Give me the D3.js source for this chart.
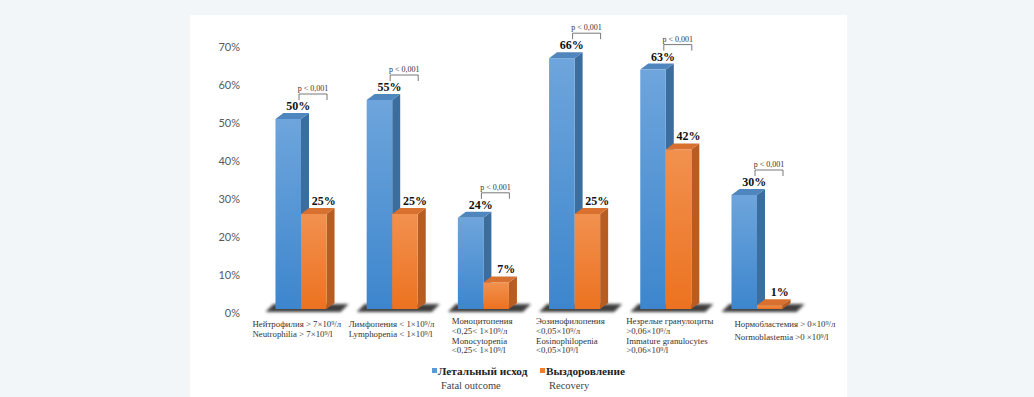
<!DOCTYPE html>
<html>
<head>
<meta charset="utf-8">
<script src="https://cdn.jsdelivr.net/npm/d3@7"></script>
<style>
  html, body { margin: 0; padding: 0; background: #f3f6f9; }
  #chart { position: absolute; left: 0; top: 0; }
  .serif { font-family: "Liberation Serif", "Times New Roman", Times, serif; }
</style>
</head>
<body>
<div id="chart"></div>
<script>
// data
const categories = ["neutro", "lympho", "mono", "eos", "immature", "normo"];
const categoryLines = [
  ["Нейтрофилия > 7×10⁹/л", "Neutrophilia > 7×10⁹/l"],
  ["Лимфопения < 1×10⁹/л", "Lymphopenia < 1×10⁹/l"],
  ["Моноцитопения", "<0,25< 1×10⁹/л", "Monocytopenia", "<0,25< 1×10⁹/l"],
  ["Эозинофилопения", "<0,05×10⁹/л", "Eosinophilopenia", "<0,05×10⁹/l"],
  ["Незрелые гранулоциты", ">0,06×10⁹/л", "Immature granulocytes", ">0,06×10⁹/l"],
  ["Нормобластемия > 0×10⁹/л", "Normoblastemia >0 ×10⁹/l"]
];
const fatal = [50, 55, 24, 66, 63, 30];
const recovery = [25, 25, 7, 25, 42, 1];
const pLabels = ["p < 0,001", "p < 0,001", "p < 0,001", "p < 0,001", "p < 0,001", "p < 0,001"];
const yTicks = [0, 10, 20, 30, 40, 50, 60, 70];
const seriesNames = ["Летальный исход", "Выздоровление"];
const seriesNamesEn = ["Fatal outcome", "Recovery"];

// layout
const W = 1034, H = 397;
const labelDx = [-23, -18, -6, -13, -14, 3]; // left edge of category text vs band start

const svg = d3.select("#chart").append("svg")
  .attr("width", W)
  .attr("height", H);

const defs = svg.append("defs");

function vGrad(id, top, bottom) {
  const g = defs.append("linearGradient")
    .attr("id", id)
    .attr("x1", 0).attr("y1", 0).attr("x2", 0).attr("y2", 1);
  g.append("stop").attr("offset", "0%").attr("stop-color", top);
  g.append("stop").attr("offset", "100%").attr("stop-color", bottom);
}
vGrad("blueFront", "#6ea5dc", "#3d86cd");
vGrad("orangeFront", "#f1914f", "#ec7220");

defs.append("filter").attr("id", "blur")
  .attr("x", "-20%").attr("y", "-100%").attr("width", "140%").attr("height", "300%")
  .append("feGaussianBlur").attr("stdDeviation", 1.6);

// white panel
svg.append("rect")
  .attr("x", 190).attr("y", 15)
  .attr("width", 657).attr("height", H - 15)
  .attr("fill", "#fff");

const x = d3.scaleBand()
  .domain(categories)
  .range([255.4, 802.6])
  .paddingInner(0.44)
  .paddingOuter(0.22);

const xs = d3.scaleBand()
  .domain(["fatal", "recovery"])
  .range([0, x.bandwidth()]);

const y = d3.scaleLinear()
  .domain([0, 70])
  .range([313, 47]);

const dx = 8, dy = 6, lift = 4; // 3D depth

// y axis labels
const yAxis = d3.axisLeft(y)
  .tickValues(yTicks)
  .tickFormat(d => d + "%")
  .tickSize(0)
  .tickPadding(0);

svg.append("g")
  .attr("transform", "translate(240,0)")
  .call(yAxis)
  .call(g => g.select(".domain").remove())
  .call(g => g.selectAll("text")
    .attr("font-family", "Lato, 'Open Sans', sans-serif")
    .attr("font-size", 11)
    .attr("fill", "#595959"));

// floor shadows
const floor = y(0) - lift;
svg.append("g").selectAll("path")
  .data(categories)
  .join("path")
  .attr("d", c => {
    const x0 = x(c), x1 = x(c) + x.bandwidth();
    return `M${x0 - 10},${floor + 3} L${x1 + 14},${floor + 3} L${x1 + 22},${floor - 5} L${x0 - 2},${floor - 5} Z`;
  })
  .attr("fill", "#2a2a2a")
  .attr("opacity", 0.9)
  .attr("filter", "url(#blur)");

// bars
const bars = [];
categories.forEach((c, i) => {
  bars.push({ cat: c, s: "fatal", v: fatal[i], i });
  bars.push({ cat: c, s: "recovery", v: recovery[i], i });
});

const colors = {
  fatal: { front: "url(#blueFront)", side: "#3b6e9f", top: "#4f86bd" },
  recovery: { front: "url(#orangeFront)", side: "#b85d22", top: "#d8702f" }
};

const barG = svg.append("g").selectAll("g")
  .data(bars)
  .join("g");

barG.each(function(d) {
  const g = d3.select(this);
  const x0 = x(d.cat) + xs(d.s);
  const w = xs.bandwidth();
  const yt = y(d.v) - lift;
  const yb = floor;
  const col = colors[d.s];
  // side
  g.append("path")
    .attr("d", `M${x0 + w},${yt} L${x0 + w + dx},${yt - dy} L${x0 + w + dx},${yb - dy} L${x0 + w},${yb} Z`)
    .attr("fill", col.side);
  // top
  g.append("path")
    .attr("d", `M${x0},${yt} L${x0 + dx},${yt - dy} L${x0 + w + dx},${yt - dy} L${x0 + w},${yt} Z`)
    .attr("fill", col.top);
  // front
  g.append("rect")
    .attr("x", x0).attr("y", yt)
    .attr("width", w).attr("height", Math.max(0.5, yb - yt))
    .attr("fill", col.front);
});

// value labels
svg.append("g").selectAll("text")
  .data(bars)
  .join("text")
  .attr("class", "serif")
  .attr("x", d => x(d.cat) + xs(d.s) + xs.bandwidth() / 2 + 10)
  .attr("y", d => y(d.v) - lift - dy - 3)
  .attr("text-anchor", "middle")
  .style("font-weight", "bold")
  .style("font-size", "12px")
  .attr("fill", "#111")
  .text(d => d.v + "%");

// p-value brackets
const pG = svg.append("g").selectAll("g")
  .data(categories)
  .join("g");

pG.each(function(c, i) {
  const g = d3.select(this);
  const mid = x(c) + xs("recovery");
  const bx0 = mid - 2, bx1 = mid + 26;
  const by = y(fatal[i]) - lift - 25;
  g.append("path")
    .attr("d", `M${bx0},${by + 6} L${bx0},${by} L${bx1},${by} L${bx1},${by + 6}`)
    .attr("fill", "none")
    .attr("stroke", "#555")
    .attr("stroke-width", 0.8);
  g.append("text")
    .attr("class", "serif")
    .attr("x", (bx0 + bx1) / 2)
    .attr("y", by - 3)
    .attr("text-anchor", "middle")
    .style("font-size", "8px")
    .attr("fill", "#333")
    .text(pLabels[i]);
});

// category labels
const catG = svg.append("g").selectAll("text")
  .data(categories)
  .join("text")
  .attr("class", "serif")
  .style("font-size", "8.8px")
  .attr("fill", "#333");

catG.each(function(c, i) {
  const t = d3.select(this);
  const lines = categoryLines[i];
  const x0 = x(c) + labelDx[i];
  const y0 = lines.length > 2 ? 324 : 327;
  const step = lines.length > 2 ? 9.8 : (i === 5 ? 13 : 10);
  lines.forEach((ln, k) => {
    t.append("tspan")
      .attr("x", x0)
      .attr("y", y0 + k * step)
      .text(ln);
  });
});

// legend
const legendColors = ["#5b9bd5", "#ed7d31"];
const legendX = [432, 540];
const lg = svg.append("g").selectAll("g")
  .data(seriesNames)
  .join("g")
  .attr("transform", (d, i) => `translate(${legendX[i]},0)`);

lg.append("rect")
  .attr("x", 0).attr("y", 368)
  .attr("width", 5).attr("height", 5)
  .attr("fill", (d, i) => legendColors[i]);

lg.append("text")
  .attr("class", "serif")
  .attr("x", 6).attr("y", 375)
  .style("font-weight", "bold")
  .style("font-size", "11.3px")
  .attr("fill", "#222")
  .text(d => d);

lg.append("text")
  .attr("class", "serif")
  .attr("x", 9).attr("y", 389)
  .style("font-size", "10.5px")
  .attr("fill", "#444")
  .text((d, i) => seriesNamesEn[i]);
</script>
</body>
</html>
